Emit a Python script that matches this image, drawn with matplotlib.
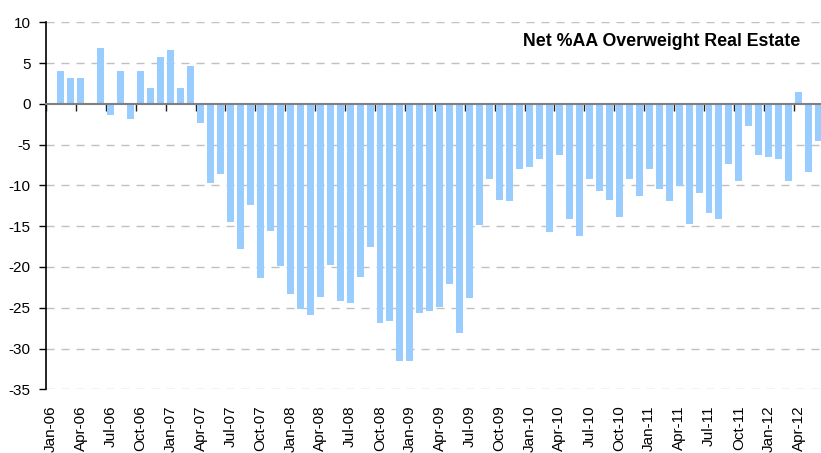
import numpy as np
import matplotlib
matplotlib.use("Agg")
import matplotlib.pyplot as plt
from matplotlib.transforms import blended_transform_factory

plt.rcParams['font.family'] = ['Liberation Sans', 'DejaVu Sans']
plt.rcParams['lines.scale_dashes'] = False

# Monthly values, Jan-06 .. Jun-12 (nan = no observation)
values = [
    np.nan, 4.0, 3.15, 3.15, np.nan, 6.9, -1.4, 4.0, -1.8, 4.0, 1.9, 5.8,          # 2006
    6.55, 1.9, 4.6, -2.3, -9.7, -8.6, -14.45, -17.75, -12.4, -21.4, -15.55, -19.9,  # 2007
    -23.3, -25.1, -25.9, -23.7, -19.7, -24.2, -24.45, -21.2, -17.6, -26.9, -26.65, -31.5,  # 2008
    -31.5, -25.7, -25.45, -24.85, -22.05, -28.1, -23.75, -14.85, -9.25, -11.8, -11.9, -7.95,  # 2009
    -7.75, -6.8, -15.7, -6.3, -14.1, -16.15, -9.25, -10.7, -11.8, -13.85, -9.25, -11.3,  # 2010
    -7.95, -10.45, -11.9, -10.1, -14.7, -10.9, -13.35, -14.1, -7.4, -9.45, -2.7, -6.3,  # 2011
    -6.55, -6.8, -9.45, 1.45, -8.4, -4.6,                                           # 2012
]
tick_labels = ["Jan-06", "Apr-06", "Jul-06", "Oct-06", "Jan-07", "Apr-07", "Jul-07", "Oct-07",
               "Jan-08", "Apr-08", "Jul-08", "Oct-08", "Jan-09", "Apr-09", "Jul-09", "Oct-09",
               "Jan-10", "Apr-10", "Jul-10", "Oct-10", "Jan-11", "Apr-11", "Jul-11", "Oct-11",
               "Jan-12", "Apr-12"]
y_ticks = [10, 5, 0, -5, -10, -15, -20, -25, -30, -35]
title = "Net %AA Overweight Real Estate"

W, H = 821, 453
fig = plt.figure(figsize=(W / 100, H / 100), dpi=100)
left, right = 46 / W, 1.0
top, bottom = (H - 22.3) / H, (H - 389.3) / H
ax = fig.add_axes([left, bottom, right - left, top - bottom])

x = np.arange(len(values))
ax.bar(x, values, width=0.7, color='#99CCFF', edgecolor='none', zorder=2)

ax.set_xlim(-0.5, -0.5 + (W - 46) / 9.97)
ax.set_ylim(-35, 10)

# gridlines
for yv in y_ticks:
    if yv != 0:
        ax.axhline(yv, color='#c0c0c0', lw=1.0, dashes=(5.8, 5.0), zorder=1)

# spines
for s in ['top', 'right']:
    ax.spines[s].set_visible(False)
ax.spines['left'].set_color('black')
ax.spines['left'].set_linewidth(1.2)
ax.spines['bottom'].set_position(('data', 0))
ax.spines['bottom'].set_color('#808080')
ax.spines['bottom'].set_linewidth(1.5)
ax.spines['bottom'].set_zorder(3)

ax.set_yticks(y_ticks)
ax.set_yticklabels([str(v) for v in y_ticks], fontsize=11)
ax.tick_params(axis='y', direction='out', length=5, width=1.0, color='black', pad=6)

tick_pos = np.arange(len(tick_labels)) * 3 - 0.5
ax.set_xticks(tick_pos)
ax.set_xticklabels([])
ax.tick_params(axis='x', direction='out', length=5, width=1.0, color='#202020')

trans = blended_transform_factory(ax.transData, ax.transAxes)
for i, lab in enumerate(tick_labels):
    ax.text(i * 3, -0.043, lab, rotation=90, ha='center', va='top',
            fontsize=11, transform=trans, clip_on=False)

fig.text(800 / W, (H - 41) / H, title, ha='right', va='center',
         fontsize=12.8, fontweight='bold')

fig.savefig('out.png', dpi=100)
